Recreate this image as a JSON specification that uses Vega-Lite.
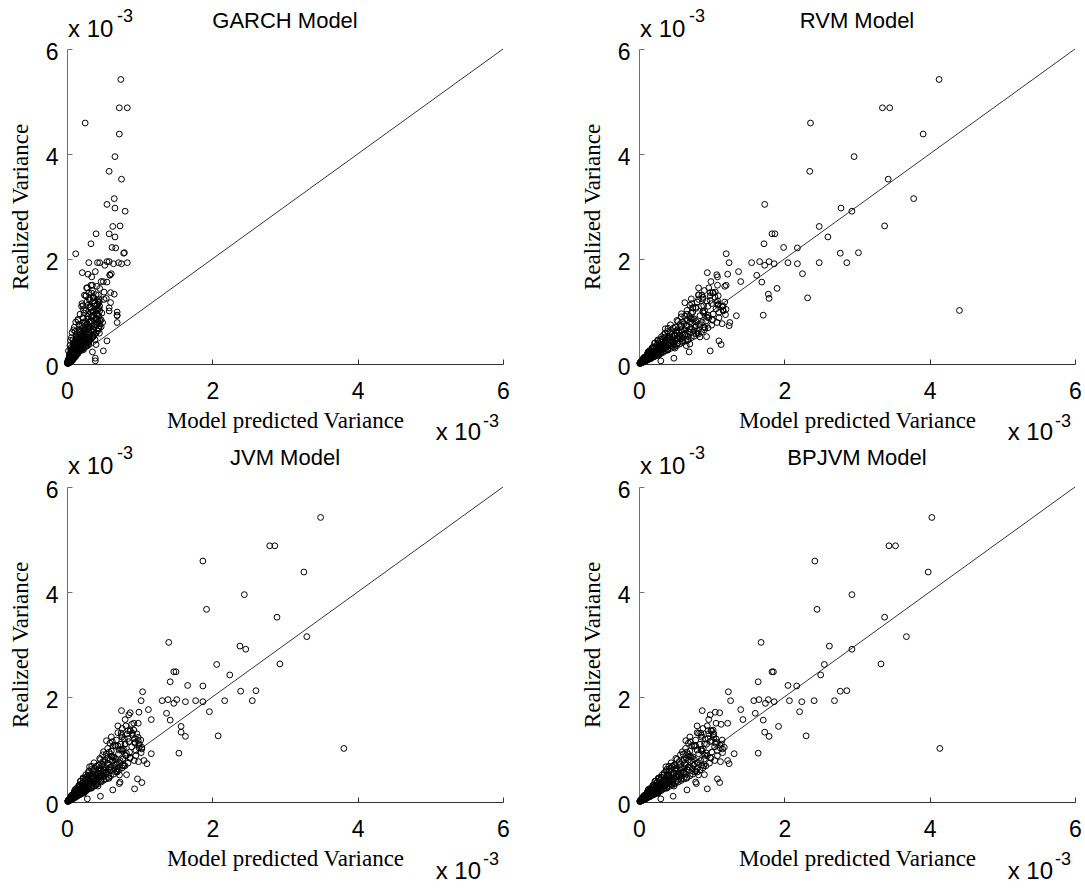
{
"$schema":"https://vega.github.io/schema/vega-lite/v6.json",
"background":"white",
"padding":{"left":9,"top":8,"right":0,"bottom":0},
"datasets":{
"diag":[{"d":0},{"d":6}],
"obs":[
{"rv":5.42,"g":0.74,"r":4.13,"j":3.49,"b":4.03},
{"rv":4.88,"g":0.72,"r":3.35,"j":2.79,"b":3.44},
{"rv":4.88,"g":0.83,"r":3.45,"j":2.86,"b":3.53},
{"rv":4.59,"g":0.25,"r":2.36,"j":1.87,"b":2.42},
{"rv":4.38,"g":0.72,"r":3.91,"j":3.26,"b":3.98},
{"rv":3.95,"g":0.66,"r":2.96,"j":2.44,"b":2.93},
{"rv":3.67,"g":0.58,"r":2.35,"j":1.92,"b":2.45},
{"rv":3.52,"g":0.75,"r":3.43,"j":2.89,"b":3.38},
{"rv":3.15,"g":0.65,"r":3.78,"j":3.30,"b":3.68},
{"rv":3.04,"g":0.55,"r":1.73,"j":1.40,"b":1.68},
{"rv":2.97,"g":0.66,"r":2.78,"j":2.38,"b":2.62},
{"rv":2.91,"g":0.80,"r":2.93,"j":2.46,"b":2.93},
{"rv":2.63,"g":0.73,"r":3.38,"j":2.93,"b":3.33},
{"rv":2.62,"g":0.63,"r":2.48,"j":2.06,"b":2.55},
{"rv":2.48,"g":0.58,"r":1.83,"j":1.47,"b":1.83},
{"rv":2.48,"g":0.40,"r":1.87,"j":1.50,"b":1.85},
{"rv":2.42,"g":0.66,"r":2.60,"j":2.24,"b":2.50},
{"rv":2.29,"g":0.33,"r":1.72,"j":1.42,"b":1.64},
{"rv":2.22,"g":0.62,"r":1.99,"j":1.66,"b":2.05},
{"rv":2.21,"g":0.67,"r":2.18,"j":1.87,"b":2.17},
{"rv":2.10,"g":0.12,"r":1.20,"j":1.04,"b":1.23},
{"rv":2.11,"g":0.78,"r":2.77,"j":2.39,"b":2.77},
{"rv":2.12,"g":0.79,"r":3.02,"j":2.60,"b":2.86},
{"rv":1.93,"g":0.42,"r":1.24,"j":1.02,"b":1.26},
{"rv":1.93,"g":0.45,"r":1.55,"j":1.31,"b":1.58},
{"rv":1.95,"g":0.55,"r":1.66,"j":1.39,"b":1.65},
{"rv":1.88,"g":0.52,"r":1.73,"j":1.47,"b":1.74},
{"rv":1.95,"g":0.58,"r":1.79,"j":1.51,"b":1.78},
{"rv":1.91,"g":0.64,"r":1.86,"j":1.63,"b":1.86},
{"rv":1.93,"g":0.71,"r":2.05,"j":1.77,"b":2.07},
{"rv":1.91,"g":0.75,"r":2.18,"j":1.87,"b":2.24},
{"rv":1.93,"g":0.83,"r":2.48,"j":2.17,"b":2.41},
{"rv":1.93,"g":0.30,"r":2.86,"j":2.55,"b":2.69},
{"rv":1.76,"g":0.39,"r":1.37,"j":1.12,"b":1.40},
{"rv":1.74,"g":0.21,"r":0.94,"j":0.75,"b":0.87},
{"rv":1.71,"g":0.29,"r":1.22,"j":0.99,"b":1.05},
{"rv":1.70,"g":0.59,"r":1.07,"j":0.87,"b":1.11},
{"rv":1.72,"g":0.61,"r":2.25,"j":1.96,"b":2.21},
{"rv":1.66,"g":0.34,"r":1.08,"j":0.85,"b":0.98},
{"rv":1.69,"g":0.59,"r":1.62,"j":1.37,"b":1.60},
{"rv":1.57,"g":0.47,"r":0.99,"j":0.80,"b":0.96},
{"rv":1.57,"g":0.50,"r":1.40,"j":1.16,"b":1.43},
{"rv":1.56,"g":0.55,"r":1.69,"j":1.42,"b":1.71},
{"rv":1.50,"g":0.35,"r":1.20,"j":0.98,"b":1.22},
{"rv":1.44,"g":0.45,"r":1.90,"j":1.57,"b":1.92},
{"rv":1.45,"g":0.27,"r":0.82,"j":0.70,"b":0.80},
{"rv":1.48,"g":0.41,"r":1.18,"j":0.89,"b":1.13},
{"rv":1.37,"g":0.51,"r":1.05,"j":0.92,"b":1.02},
{"rv":1.36,"g":0.60,"r":0.98,"j":0.84,"b":0.95},
{"rv":1.33,"g":0.65,"r":1.78,"j":1.57,"b":1.73},
{"rv":1.25,"g":0.54,"r":1.79,"j":1.63,"b":1.79},
{"rv":1.26,"g":0.37,"r":2.32,"j":2.08,"b":2.30},
{"rv":1.30,"g":0.26,"r":1.09,"j":0.96,"b":1.03},
{"rv":1.31,"g":0.24,"r":0.82,"j":0.90,"b":0.82},
{"rv":1.23,"g":0.51,"r":0.82,"j":0.98,"b":1.03},
{"rv":1.17,"g":0.60,"r":1.07,"j":0.98,"b":1.00},
{"rv":1.11,"g":0.22,"r":0.89,"j":0.80,"b":0.90},
{"rv":1.07,"g":0.58,"r":0.74,"j":0.70,"b":0.78},
{"rv":1.01,"g":0.58,"r":1.16,"j":1.03,"b":1.15},
{"rv":1.02,"g":0.42,"r":4.41,"j":3.81,"b":4.14},
{"rv":0.93,"g":0.69,"r":1.71,"j":1.54,"b":1.64},
{"rv":0.92,"g":0.69,"r":1.34,"j":1.16,"b":1.31},
{"rv":0.99,"g":0.69,"r":0.74,"j":0.72,"b":0.80},
{"rv":0.79,"g":0.69,"r":1.25,"j":1.06,"b":1.22},
{"rv":0.73,"g":0.45,"r":1.24,"j":1.10,"b":1.24},
{"rv":0.52,"g":0.35,"r":0.93,"j":0.82,"b":0.90},
{"rv":0.44,"g":0.55,"r":1.10,"j":0.97,"b":1.08},
{"rv":0.37,"g":0.40,"r":1.13,"j":1.03,"b":1.11},
{"rv":0.38,"g":0.30,"r":0.70,"j":0.73,"b":0.78},
{"rv":0.35,"g":0.28,"r":0.65,"j":0.72,"b":0.79},
{"rv":0.25,"g":0.50,"r":0.98,"j":0.93,"b":0.94},
{"rv":0.23,"g":0.35,"r":0.69,"j":0.63,"b":0.66},
{"rv":0.11,"g":0.39,"r":0.48,"j":0.46,"b":0.47},
{"rv":0.06,"g":0.39,"r":0.30,"j":0.28,"b":0.30},
{"rv":0.60,"g":0.07,"r":0.55,"j":0.47,"b":0.53},
{"rv":0.45,"g":0.05,"r":0.38,"j":0.33,"b":0.37},
{"rv":0.80,"g":0.12,"r":0.60,"j":0.52,"b":0.62},
{"rv":0.95,"g":0.18,"r":0.66,"j":0.58,"b":0.66},
{"rv":0.70,"g":0.10,"r":0.50,"j":0.44,"b":0.48},
{"rv":0.35,"g":0.04,"r":0.30,"j":0.26,"b":0.29},
{"rv":0.50,"g":0.06,"r":0.47,"j":0.40,"b":0.46},
{"rv":0.85,"g":0.15,"r":0.74,"j":0.64,"b":0.72},
{"rv":1.10,"g":0.20,"r":0.86,"j":0.74,"b":0.84},
{"rv":0.25,"g":0.02,"r":0.21,"j":0.18,"b":0.20},
{"rv":0.65,"g":0.09,"r":0.58,"j":0.50,"b":0.57},
{"rv":0.01,"g":0.01,"r":0.01,"j":0.01,"b":0.01},
{"rv":0.015,"g":0.02,"r":0.02,"j":0.015,"b":0.02},
{"rv":0.02,"g":0.01,"r":0.03,"j":0.02,"b":0.025},
{"rv":0.02,"g":0.03,"r":0.015,"j":0.02,"b":0.02},
{"rv":0.025,"g":0.02,"r":0.04,"j":0.03,"b":0.035},
{"rv":0.03,"g":0.01,"r":0.02,"j":0.025,"b":0.03},
{"rv":0.03,"g":0.04,"r":0.05,"j":0.04,"b":0.045},
{"rv":0.035,"g":0.02,"r":0.03,"j":0.02,"b":0.03},
{"rv":0.04,"g":0.03,"r":0.06,"j":0.05,"b":0.055},
{"rv":0.04,"g":0.05,"r":0.03,"j":0.035,"b":0.04},
{"rv":0.045,"g":0.02,"r":0.05,"j":0.04,"b":0.05},
{"rv":0.05,"g":0.04,"r":0.07,"j":0.06,"b":0.065},
{"rv":0.05,"g":0.06,"r":0.04,"j":0.03,"b":0.04},
{"rv":0.055,"g":0.03,"r":0.08,"j":0.06,"b":0.07},
{"rv":0.06,"g":0.05,"r":0.05,"j":0.05,"b":0.05},
{"rv":0.06,"g":0.02,"r":0.09,"j":0.07,"b":0.085},
{"rv":0.065,"g":0.07,"r":0.06,"j":0.06,"b":0.06},
{"rv":0.07,"g":0.04,"r":0.10,"j":0.08,"b":0.09},
{"rv":0.07,"g":0.03,"r":0.05,"j":0.04,"b":0.06},
{"rv":0.075,"g":0.06,"r":0.08,"j":0.07,"b":0.08},
{"rv":0.08,"g":0.05,"r":0.12,"j":0.10,"b":0.11},
{"rv":0.08,"g":0.08,"r":0.07,"j":0.06,"b":0.07},
{"rv":0.085,"g":0.04,"r":0.09,"j":0.08,"b":0.095},
{"rv":0.09,"g":0.07,"r":0.14,"j":0.11,"b":0.13},
{"rv":0.09,"g":0.03,"r":0.06,"j":0.05,"b":0.06},
{"rv":0.095,"g":0.06,"r":0.11,"j":0.09,"b":0.10},
{"rv":0.10,"g":0.09,"r":0.08,"j":0.07,"b":0.09},
{"rv":0.10,"g":0.05,"r":0.16,"j":0.13,"b":0.15},
{"rv":0.11,"g":0.07,"r":0.13,"j":0.11,"b":0.12},
{"rv":0.12,"g":0.10,"r":0.10,"j":0.09,"b":0.11},
{"rv":0.12,"g":0.05,"r":0.18,"j":0.15,"b":0.17},
{"rv":0.13,"g":0.08,"r":0.15,"j":0.12,"b":0.14},
{"rv":0.14,"g":0.11,"r":0.12,"j":0.10,"b":0.12},
{"rv":0.14,"g":0.06,"r":0.21,"j":0.17,"b":0.20},
{"rv":0.15,"g":0.09,"r":0.17,"j":0.14,"b":0.16},
{"rv":0.16,"g":0.12,"r":0.14,"j":0.12,"b":0.13},
{"rv":0.16,"g":0.07,"r":0.24,"j":0.20,"b":0.23},
{"rv":0.17,"g":0.10,"r":0.19,"j":0.16,"b":0.18},
{"rv":0.18,"g":0.13,"r":0.15,"j":0.13,"b":0.15},
{"rv":0.18,"g":0.06,"r":0.27,"j":0.22,"b":0.26},
{"rv":0.19,"g":0.11,"r":0.21,"j":0.18,"b":0.20},
{"rv":0.20,"g":0.14,"r":0.17,"j":0.14,"b":0.16},
{"rv":0.20,"g":0.08,"r":0.30,"j":0.25,"b":0.28},
{"rv":0.21,"g":0.12,"r":0.23,"j":0.20,"b":0.22},
{"rv":0.22,"g":0.15,"r":0.19,"j":0.16,"b":0.18},
{"rv":0.22,"g":0.09,"r":0.33,"j":0.27,"b":0.31},
{"rv":0.23,"g":0.13,"r":0.26,"j":0.22,"b":0.25},
{"rv":0.24,"g":0.17,"r":0.14,"j":0.12,"b":0.13},
{"rv":0.25,"g":0.10,"r":0.36,"j":0.30,"b":0.34},
{"rv":0.25,"g":0.15,"r":0.28,"j":0.24,"b":0.27},
{"rv":0.26,"g":0.19,"r":0.22,"j":0.19,"b":0.21},
{"rv":0.27,"g":0.11,"r":0.40,"j":0.33,"b":0.38},
{"rv":0.28,"g":0.16,"r":0.31,"j":0.26,"b":0.30},
{"rv":0.29,"g":0.21,"r":0.25,"j":0.21,"b":0.24},
{"rv":0.30,"g":0.12,"r":0.44,"j":0.37,"b":0.42},
{"rv":0.30,"g":0.17,"r":0.34,"j":0.29,"b":0.33},
{"rv":0.31,"g":0.22,"r":0.18,"j":0.16,"b":0.19},
{"rv":0.32,"g":0.14,"r":0.48,"j":0.40,"b":0.46},
{"rv":0.33,"g":0.19,"r":0.37,"j":0.31,"b":0.36},
{"rv":0.34,"g":0.24,"r":0.28,"j":0.24,"b":0.27},
{"rv":0.35,"g":0.13,"r":0.52,"j":0.43,"b":0.50},
{"rv":0.36,"g":0.20,"r":0.40,"j":0.34,"b":0.39},
{"rv":0.37,"g":0.26,"r":0.31,"j":0.26,"b":0.30},
{"rv":0.38,"g":0.15,"r":0.56,"j":0.47,"b":0.54},
{"rv":0.39,"g":0.22,"r":0.43,"j":0.36,"b":0.42},
{"rv":0.40,"g":0.28,"r":0.22,"j":0.19,"b":0.23},
{"rv":0.41,"g":0.16,"r":0.60,"j":0.50,"b":0.58},
{"rv":0.42,"g":0.24,"r":0.46,"j":0.39,"b":0.45},
{"rv":0.43,"g":0.30,"r":0.36,"j":0.30,"b":0.35},
{"rv":0.44,"g":0.17,"r":0.64,"j":0.54,"b":0.62},
{"rv":0.45,"g":0.25,"r":0.50,"j":0.42,"b":0.48},
{"rv":0.46,"g":0.32,"r":0.26,"j":0.22,"b":0.27},
{"rv":0.47,"g":0.18,"r":0.68,"j":0.57,"b":0.66},
{"rv":0.48,"g":0.27,"r":0.53,"j":0.45,"b":0.52},
{"rv":0.49,"g":0.34,"r":0.41,"j":0.35,"b":0.40},
{"rv":0.50,"g":0.20,"r":0.72,"j":0.60,"b":0.70},
{"rv":0.51,"g":0.29,"r":0.56,"j":0.47,"b":0.55},
{"rv":0.52,"g":0.36,"r":0.31,"j":0.26,"b":0.32},
{"rv":0.53,"g":0.21,"r":0.76,"j":0.64,"b":0.74},
{"rv":0.55,"g":0.31,"r":0.60,"j":0.50,"b":0.58},
{"rv":0.56,"g":0.38,"r":0.45,"j":0.38,"b":0.44},
{"rv":0.57,"g":0.22,"r":0.82,"j":0.69,"b":0.80},
{"rv":0.58,"g":0.33,"r":0.64,"j":0.54,"b":0.62},
{"rv":0.59,"g":0.40,"r":0.36,"j":0.30,"b":0.37},
{"rv":0.61,"g":0.23,"r":0.86,"j":0.72,"b":0.84},
{"rv":0.62,"g":0.35,"r":0.68,"j":0.57,"b":0.66},
{"rv":0.63,"g":0.42,"r":0.52,"j":0.44,"b":0.51},
{"rv":0.65,"g":0.25,"r":0.90,"j":0.76,"b":0.88},
{"rv":0.66,"g":0.36,"r":0.72,"j":0.60,"b":0.70},
{"rv":0.68,"g":0.44,"r":0.40,"j":0.34,"b":0.41},
{"rv":0.69,"g":0.27,"r":0.95,"j":0.80,"b":0.92},
{"rv":0.70,"g":0.38,"r":0.77,"j":0.65,"b":0.75},
{"rv":0.72,"g":0.30,"r":0.58,"j":0.49,"b":0.57},
{"rv":0.74,"g":0.40,"r":1.00,"j":0.84,"b":0.97},
{"rv":0.75,"g":0.28,"r":0.82,"j":0.69,"b":0.80},
{"rv":0.77,"g":0.45,"r":0.62,"j":0.52,"b":0.60},
{"rv":0.79,"g":0.31,"r":0.87,"j":0.73,"b":0.85},
{"rv":0.80,"g":0.42,"r":0.70,"j":0.59,"b":0.68},
{"rv":0.82,"g":0.33,"r":0.92,"j":0.77,"b":0.90},
{"rv":0.84,"g":0.47,"r":0.66,"j":0.56,"b":0.65},
{"rv":0.86,"g":0.29,"r":0.76,"j":0.64,"b":0.74},
{"rv":0.88,"g":0.40,"r":0.96,"j":0.81,"b":0.94},
{"rv":0.90,"g":0.34,"r":0.58,"j":0.49,"b":0.57},
{"rv":0.92,"g":0.44,"r":0.84,"j":0.71,"b":0.82},
{"rv":0.95,"g":0.31,"r":1.02,"j":0.86,"b":1.00},
{"rv":0.97,"g":0.48,"r":0.72,"j":0.61,"b":0.70},
{"rv":1.00,"g":0.36,"r":0.88,"j":0.74,"b":0.86},
{"rv":1.02,"g":0.26,"r":0.66,"j":0.56,"b":0.64},
{"rv":1.05,"g":0.42,"r":1.06,"j":0.89,"b":1.04},
{"rv":1.08,"g":0.33,"r":0.78,"j":0.66,"b":0.76},
{"rv":1.10,"g":0.45,"r":0.95,"j":0.80,"b":0.93},
{"rv":1.12,"g":0.29,"r":0.70,"j":0.59,"b":0.68},
{"rv":1.15,"g":0.38,"r":1.00,"j":0.85,"b":0.98},
{"rv":1.18,"g":0.27,"r":0.80,"j":0.68,"b":0.78},
{"rv":1.20,"g":0.43,"r":0.93,"j":0.79,"b":0.91},
{"rv":1.24,"g":0.31,"r":0.72,"j":0.61,"b":0.70},
{"rv":1.27,"g":0.36,"r":0.88,"j":0.75,"b":0.86},
{"rv":1.30,"g":0.26,"r":0.98,"j":0.83,"b":0.96},
{"rv":1.32,"g":0.40,"r":0.82,"j":0.70,"b":0.80},
{"rv":1.36,"g":0.30,"r":1.02,"j":0.87,"b":1.00},
{"rv":1.40,"g":0.35,"r":0.90,"j":0.76,"b":0.88},
{"rv":1.45,"g":0.28,"r":0.96,"j":0.81,"b":0.94},
{"rv":1.50,"g":0.33,"r":1.08,"j":0.92,"b":1.06},
{"rv":0.012,"g":0.005,"r":0.016,"j":0.014,"b":0.015},
{"rv":0.018,"g":0.013,"r":0.013,"j":0.011,"b":0.013},
{"rv":0.027,"g":0.008,"r":0.029,"j":0.025,"b":0.028},
{"rv":0.033,"g":0.018,"r":0.019,"j":0.017,"b":0.02},
{"rv":0.038,"g":0.014,"r":0.057,"j":0.048,"b":0.055},
{"rv":0.042,"g":0.035,"r":0.039,"j":0.034,"b":0.04},
{"rv":0.048,"g":0.015,"r":0.032,"j":0.028,"b":0.031},
{"rv":0.053,"g":0.033,"r":0.064,"j":0.055,"b":0.062},
{"rv":0.058,"g":0.027,"r":0.049,"j":0.042,"b":0.05},
{"rv":0.062,"g":0.016,"r":0.101,"j":0.087,"b":0.097},
{"rv":0.067,"g":0.046,"r":0.052,"j":0.045,"b":0.051},
{"rv":0.072,"g":0.028,"r":0.073,"j":0.063,"b":0.072},
{"rv":0.078,"g":0.041,"r":0.048,"j":0.042,"b":0.049},
{"rv":0.083,"g":0.027,"r":0.115,"j":0.098,"b":0.112},
{"rv":0.088,"g":0.067,"r":0.078,"j":0.068,"b":0.076},
{"rv":0.093,"g":0.041,"r":0.107,"j":0.092,"b":0.104},
{"rv":0.098,"g":0.028,"r":0.068,"j":0.059,"b":0.067},
{"rv":0.104,"g":0.06,"r":0.132,"j":0.113,"b":0.128},
{"rv":0.108,"g":0.04,"r":0.104,"j":0.09,"b":0.102},
{"rv":0.113,"g":0.073,"r":0.061,"j":0.053,"b":0.062},
{"rv":0.118,"g":0.05,"r":0.156,"j":0.134,"b":0.152},
{"rv":0.124,"g":0.088,"r":0.088,"j":0.076,"b":0.086},
{"rv":0.128,"g":0.036,"r":0.138,"j":0.119,"b":0.135},
{"rv":0.133,"g":0.073,"r":0.077,"j":0.067,"b":0.079},
{"rv":0.139,"g":0.05,"r":0.207,"j":0.178,"b":0.201},
{"rv":0.144,"g":0.12,"r":0.134,"j":0.115,"b":0.131},
{"rv":0.149,"g":0.046,"r":0.098,"j":0.085,"b":0.097},
{"rv":0.155,"g":0.096,"r":0.188,"j":0.161,"b":0.183},
{"rv":0.161,"g":0.076,"r":0.135,"j":0.117,"b":0.133},
{"rv":0.166,"g":0.042,"r":0.271,"j":0.232,"b":0.262},
{"rv":0.172,"g":0.117,"r":0.132,"j":0.114,"b":0.13},
{"rv":0.178,"g":0.069,"r":0.182,"j":0.157,"b":0.178},
{"rv":0.184,"g":0.096,"r":0.112,"j":0.097,"b":0.114},
{"rv":0.189,"g":0.062,"r":0.261,"j":0.224,"b":0.254},
{"rv":0.195,"g":0.148,"r":0.174,"j":0.15,"b":0.171},
{"rv":0.201,"g":0.088,"r":0.231,"j":0.199,"b":0.226},
{"rv":0.207,"g":0.06,"r":0.143,"j":0.124,"b":0.141},
{"rv":0.214,"g":0.124,"r":0.272,"j":0.234,"b":0.265},
{"rv":0.221,"g":0.082,"r":0.212,"j":0.183,"b":0.208},
{"rv":0.228,"g":0.148,"r":0.123,"j":0.107,"b":0.126},
{"rv":0.235,"g":0.099,"r":0.31,"j":0.267,"b":0.302},
{"rv":0.242,"g":0.172,"r":0.172,"j":0.148,"b":0.169},
{"rv":0.249,"g":0.07,"r":0.269,"j":0.231,"b":0.263},
{"rv":0.256,"g":0.141,"r":0.148,"j":0.128,"b":0.151},
{"rv":0.264,"g":0.095,"r":0.393,"j":0.338,"b":0.383},
{"rv":0.271,"g":0.225,"r":0.252,"j":0.217,"b":0.247},
{"rv":0.279,"g":0.086,"r":0.184,"j":0.159,"b":0.181},
{"rv":0.287,"g":0.178,"r":0.347,"j":0.298,"b":0.339},
{"rv":0.295,"g":0.139,"r":0.248,"j":0.213,"b":0.243},
{"rv":0.303,"g":0.076,"r":0.494,"j":0.425,"b":0.481},
{"rv":0.312,"g":0.212,"r":0.24,"j":0.207,"b":0.236},
{"rv":0.321,"g":0.125,"r":0.327,"j":0.282,"b":0.321},
{"rv":0.329,"g":0.171,"r":0.201,"j":0.173,"b":0.205},
{"rv":0.338,"g":0.112,"r":0.466,"j":0.401,"b":0.455},
{"rv":0.347,"g":0.264,"r":0.309,"j":0.266,"b":0.302},
{"rv":0.357,"g":0.157,"r":0.411,"j":0.353,"b":0.401},
{"rv":0.366,"g":0.106,"r":0.253,"j":0.217,"b":0.248},
{"rv":0.376,"g":0.218,"r":0.478,"j":0.411,"b":0.467},
{"rv":0.386,"g":0.143,"r":0.371,"j":0.319,"b":0.363},
{"rv":0.396,"g":0.257,"r":0.214,"j":0.184,"b":0.219},
{"rv":0.407,"g":0.171,"r":0.537,"j":0.462,"b":0.524},
{"rv":0.418,"g":0.297,"r":0.297,"j":0.255,"b":0.291},
{"rv":0.429,"g":0.12,"r":0.463,"j":0.398,"b":0.453},
{"rv":0.441,"g":0.243,"r":0.256,"j":0.22,"b":0.261},
{"rv":0.452,"g":0.163,"r":0.673,"j":0.579,"b":0.657},
{"rv":0.464,"g":0.385,"r":0.432,"j":0.371,"b":0.423},
{"rv":0.476,"g":0.148,"r":0.314,"j":0.27,"b":0.309},
{"rv":0.489,"g":0.303,"r":0.592,"j":0.509,"b":0.578},
{"rv":0.502,"g":0.236,"r":0.422,"j":0.363,"b":0.413},
{"rv":0.515,"g":0.129,"r":0.839,"j":0.722,"b":0.82},
{"rv":0.529,"g":0.36,"r":0.407,"j":0.35,"b":0.399},
{"rv":0.543,"g":0.212,"r":0.554,"j":0.476,"b":0.543},
{"rv":0.557,"g":0.29,"r":0.34,"j":0.292,"b":0.347},
{"rv":0.572,"g":0.189,"r":0.789,"j":0.679,"b":0.771},
{"rv":0.587,"g":0.446,"r":0.522,"j":0.449,"b":0.511},
{"rv":0.603,"g":0.265,"r":0.693,"j":0.596,"b":0.679},
{"rv":0.619,"g":0.18,"r":0.427,"j":0.367,"b":0.419},
{"rv":0.636,"g":0.369,"r":0.808,"j":0.695,"b":0.792},
{"rv":0.653,"g":0.242,"r":0.627,"j":0.539,"b":0.614},
{"rv":0.671,"g":0.436,"r":0.362,"j":0.311,"b":0.37},
{"rv":0.689,"g":0.289,"r":0.909,"j":0.782,"b":0.891},
{"rv":0.708,"g":0.47,"r":0.503,"j":0.433,"b":0.493},
{"rv":0.727,"g":0.204,"r":0.785,"j":0.675,"b":0.769},
{"rv":0.747,"g":0.411,"r":0.433,"j":0.372,"b":0.442},
{"rv":0.768,"g":0.276,"r":1.144,"j":0.984,"b":1.121},
{"rv":0.789,"g":0.49,"r":0.734,"j":0.631,"b":0.719},
{"rv":0.811,"g":0.251,"r":0.535,"j":0.46,"b":0.524},
{"rv":0.834,"g":0.45,"r":1.009,"j":0.868,"b":0.989},
{"rv":0.857,"g":0.403,"r":0.72,"j":0.619,"b":0.706},
{"rv":0.881,"g":0.22,"r":1.101,"j":0.947,"b":1.079},
{"rv":0.906,"g":0.43,"r":0.698,"j":0.6,"b":0.684},
{"rv":0.931,"g":0.363,"r":0.95,"j":0.817,"b":0.931},
{"rv":0.957,"g":0.41,"r":0.584,"j":0.502,"b":0.596},
{"rv":0.984,"g":0.325,"r":1.102,"j":0.948,"b":1.08},
{"rv":1.013,"g":0.45,"r":0.902,"j":0.776,"b":0.884},
{"rv":1.042,"g":0.40,"r":1.198,"j":1.03,"b":1.174},
{"rv":1.072,"g":0.311,"r":0.74,"j":0.636,"b":0.725},
{"rv":1.103,"g":0.38,"r":1.158,"j":0.996,"b":1.135},
{"rv":1.135,"g":0.42,"r":1.09,"j":0.937,"b":1.068},
{"rv":1.168,"g":0.44,"r":0.631,"j":0.543,"b":0.644},
{"rv":1.202,"g":0.361,"r":1.082,"j":0.93,"b":1.06},
{"rv":1.237,"g":0.445,"r":0.878,"j":0.755,"b":0.86},
{"rv":1.274,"g":0.357,"r":1.045,"j":0.899,"b":1.024},
{"rv":1.312,"g":0.433,"r":0.866,"j":0.745,"b":0.849},
{"rv":1.351,"g":0.338,"r":1.013,"j":0.871,"b":0.993},
{"rv":0.022,"g":0.008,"r":0.019,"j":0.017,"b":0.019},
{"rv":0.031,"g":0.007,"r":0.035,"j":0.030,"b":0.034},
{"rv":0.044,"g":0.021,"r":0.033,"j":0.028,"b":0.032},
{"rv":0.051,"g":0.015,"r":0.069,"j":0.060,"b":0.067},
{"rv":0.063,"g":0.026,"r":0.061,"j":0.053,"b":0.059},
{"rv":0.071,"g":0.013,"r":0.045,"j":0.039,"b":0.043},
{"rv":0.079,"g":0.042,"r":0.094,"j":0.081,"b":0.091},
{"rv":0.087,"g":0.023,"r":0.070,"j":0.061,"b":0.068},
{"rv":0.096,"g":0.036,"r":0.101,"j":0.087,"b":0.098},
{"rv":0.105,"g":0.033,"r":0.072,"j":0.062,"b":0.070},
{"rv":0.115,"g":0.052,"r":0.146,"j":0.126,"b":0.142},
{"rv":0.122,"g":0.029,"r":0.112,"j":0.097,"b":0.109},
{"rv":0.131,"g":0.046,"r":0.115,"j":0.099,"b":0.112},
{"rv":0.142,"g":0.031,"r":0.159,"j":0.137,"b":0.154},
{"rv":0.151,"g":0.072,"r":0.112,"j":0.096,"b":0.108},
{"rv":0.163,"g":0.047,"r":0.222,"j":0.191,"b":0.215},
{"rv":0.174,"g":0.071,"r":0.169,"j":0.145,"b":0.164},
{"rv":0.183,"g":0.033,"r":0.115,"j":0.099,"b":0.112},
{"rv":0.192,"g":0.102,"r":0.228,"j":0.196,"b":0.222},
{"rv":0.204,"g":0.053,"r":0.165,"j":0.142,"b":0.160},
{"rv":0.213,"g":0.081,"r":0.224,"j":0.192,"b":0.217},
{"rv":0.226,"g":0.070,"r":0.156,"j":0.134,"b":0.151},
{"rv":0.238,"g":0.107,"r":0.302,"j":0.260,"b":0.293},
{"rv":0.247,"g":0.059,"r":0.227,"j":0.195,"b":0.220},
{"rv":0.259,"g":0.091,"r":0.228,"j":0.196,"b":0.221},
{"rv":0.268,"g":0.059,"r":0.300,"j":0.258,"b":0.291},
{"rv":0.282,"g":0.135,"r":0.209,"j":0.179,"b":0.202},
{"rv":0.293,"g":0.085,"r":0.398,"j":0.343,"b":0.386},
{"rv":0.305,"g":0.125,"r":0.296,"j":0.254,"b":0.287},
{"rv":0.316,"g":0.057,"r":0.199,"j":0.171,"b":0.193},
{"rv":0.327,"g":0.173,"r":0.389,"j":0.335,"b":0.377},
{"rv":0.339,"g":0.088,"r":0.275,"j":0.236,"b":0.266},
{"rv":0.352,"g":0.134,"r":0.370,"j":0.318,"b":0.359},
{"rv":0.364,"g":0.113,"r":0.251,"j":0.216,"b":0.244},
{"rv":0.373,"g":0.168,"r":0.474,"j":0.407,"b":0.460},
{"rv":0.385,"g":0.092,"r":0.354,"j":0.305,"b":0.343},
{"rv":0.398,"g":0.139,"r":0.350,"j":0.301,"b":0.340},
{"rv":0.411,"g":0.090,"r":0.460,"j":0.396,"b":0.446},
{"rv":0.423,"g":0.203,"r":0.313,"j":0.269,"b":0.304},
{"rv":0.436,"g":0.126,"r":0.593,"j":0.510,"b":0.575},
{"rv":0.448,"g":0.184,"r":0.435,"j":0.374,"b":0.422},
{"rv":0.461,"g":0.083,"r":0.290,"j":0.250,"b":0.282},
{"rv":0.474,"g":0.251,"r":0.564,"j":0.485,"b":0.547},
{"rv":0.487,"g":0.127,"r":0.394,"j":0.339,"b":0.383},
{"rv":0.498,"g":0.189,"r":0.523,"j":0.450,"b":0.507},
{"rv":0.512,"g":0.159,"r":0.353,"j":0.304,"b":0.343},
{"rv":0.526,"g":0.237,"r":0.668,"j":0.574,"b":0.648},
{"rv":0.538,"g":0.129,"r":0.495,"j":0.426,"b":0.480},
{"rv":0.551,"g":0.193,"r":0.485,"j":0.417,"b":0.470},
{"rv":0.565,"g":0.124,"r":0.633,"j":0.544,"b":0.614},
{"rv":0.578,"g":0.277,"r":0.428,"j":0.368,"b":0.415},
{"rv":0.592,"g":0.172,"r":0.805,"j":0.692,"b":0.781},
{"rv":0.607,"g":0.249,"r":0.589,"j":0.506,"b":0.571},
{"rv":0.622,"g":0.112,"r":0.392,"j":0.337,"b":0.380},
{"rv":0.638,"g":0.330,"r":0.759,"j":0.653,"b":0.736},
{"rv":0.651,"g":0.169,"r":0.527,"j":0.453,"b":0.511},
{"rv":0.667,"g":0.253,"r":0.700,"j":0.602,"b":0.679},
{"rv":0.684,"g":0.212,"r":0.472,"j":0.406,"b":0.458},
{"rv":0.702,"g":0.316,"r":0.892,"j":0.767,"b":0.865},
{"rv":0.718,"g":0.172,"r":0.661,"j":0.568,"b":0.641},
{"rv":0.735,"g":0.257,"r":0.647,"j":0.556,"b":0.628},
{"rv":0.752,"g":0.165,"r":0.842,"j":0.724,"b":0.817},
{"rv":0.771,"g":0.370,"r":0.571,"j":0.491,"b":0.554},
{"rv":0.790,"g":0.229,"r":1.074,"j":0.924,"b":1.042},
{"rv":0.810,"g":0.332,"r":0.786,"j":0.676,"b":0.762},
{"rv":0.830,"g":0.149,"r":0.523,"j":0.450,"b":0.507},
{"rv":0.850,"g":0.420,"r":1.012,"j":0.870,"b":0.981},
{"rv":0.870,"g":0.226,"r":0.705,"j":0.606,"b":0.684},
{"rv":0.890,"g":0.338,"r":0.935,"j":0.804,"b":0.907},
{"rv":0.910,"g":0.282,"r":0.628,"j":0.540,"b":0.609},
{"rv":0.940,"g":0.420,"r":1.190,"j":1.020,"b":1.150},
{"rv":0.970,"g":0.233,"r":0.892,"j":0.767,"b":0.865},
{"rv":1.000,"g":0.350,"r":0.880,"j":0.757,"b":0.854},
{"rv":1.030,"g":0.227,"r":1.154,"j":0.992,"b":1.119},
{"rv":1.060,"g":0.440,"r":0.784,"j":0.674,"b":0.760},
{"rv":1.090,"g":0.316,"r":1.145,"j":0.985,"b":1.111},
{"rv":1.120,"g":0.410,"r":1.086,"j":0.934,"b":1.053},
{"rv":1.150,"g":0.207,"r":0.725,"j":0.624,"b":0.703},
{"rv":1.180,"g":0.440,"r":1.180,"j":1.015,"b":1.145},
{"rv":1.210,"g":0.310,"r":0.980,"j":0.843,"b":0.951}
]},
"vconcat":[
{"hconcat":[
{"width":436,"height":315,"layer":[
{"data":{"name":"diag"},"mark":{"type":"line","color":"black","strokeWidth":0.8},"encoding":{"x":{"field":"d","type":"quantitative","scale":{"domain":[0,6],"nice":false},"axis":{"values":[0,2,4,6],"format":"d"},"title":"Model predicted Variance"},"y":{"field":"d","type":"quantitative","scale":{"domain":[0,6],"nice":false},"axis":{"values":[0,2,4,6],"format":"d"},"title":"Realized Variance"}}},
{"data":{"name":"obs"},"mark":{"type":"point","shape":"circle","filled":false,"color":"black","size":34,"strokeWidth":1,"opacity":1},"encoding":{"x":{"field":"g","type":"quantitative","axis":{"values":[0,2,4,6],"format":"d"},"title":"Model predicted Variance"},"y":{"field":"rv","type":"quantitative","axis":{"values":[0,2,4,6],"format":"d"},"title":"Realized Variance"}}},
{"data":{"values":[{"t":"GARCH Model"}]},"mark":{"type":"text","font":"Liberation Sans","fontSize":22,"dy":-28,"baseline":"middle"},"encoding":{"text":{"field":"t"},"x":{"datum":3,"type":"quantitative"},"y":{"datum":6,"type":"quantitative"}}},
{"data":{"values":[{"t":"x 10"}]},"mark":{"type":"text","font":"Liberation Sans","fontSize":24,"align":"left","baseline":"middle","dx":1,"dy":-19},"encoding":{"text":{"field":"t"},"x":{"datum":0,"type":"quantitative"},"y":{"datum":6,"type":"quantitative"}}},
{"data":{"values":[{"t":"-3"}]},"mark":{"type":"text","font":"Liberation Sans","fontSize":18,"align":"left","baseline":"middle","dx":50,"dy":-32},"encoding":{"text":{"field":"t"},"x":{"datum":0,"type":"quantitative"},"y":{"datum":6,"type":"quantitative"}}},
{"data":{"values":[{"t":"x 10"}]},"mark":{"type":"text","font":"Liberation Sans","fontSize":24,"align":"right","baseline":"middle","dx":-22,"dy":69},"encoding":{"text":{"field":"t"},"x":{"datum":6,"type":"quantitative"},"y":{"datum":0,"type":"quantitative"}}},
{"data":{"values":[{"t":"-3"}]},"mark":{"type":"text","font":"Liberation Sans","fontSize":18,"align":"left","baseline":"middle","dx":-20,"dy":58},"encoding":{"text":{"field":"t"},"x":{"datum":6,"type":"quantitative"},"y":{"datum":0,"type":"quantitative"}}}
]},
{"width":436,"height":315,"layer":[
{"data":{"name":"diag"},"mark":{"type":"line","color":"black","strokeWidth":0.8},"encoding":{"x":{"field":"d","type":"quantitative","scale":{"domain":[0,6],"nice":false},"axis":{"values":[0,2,4,6],"format":"d"},"title":"Model predicted Variance"},"y":{"field":"d","type":"quantitative","scale":{"domain":[0,6],"nice":false},"axis":{"values":[0,2,4,6],"format":"d"},"title":"Realized Variance"}}},
{"data":{"name":"obs"},"mark":{"type":"point","shape":"circle","filled":false,"color":"black","size":34,"strokeWidth":1,"opacity":1},"encoding":{"x":{"field":"r","type":"quantitative","axis":{"values":[0,2,4,6],"format":"d"},"title":"Model predicted Variance"},"y":{"field":"rv","type":"quantitative","axis":{"values":[0,2,4,6],"format":"d"},"title":"Realized Variance"}}},
{"data":{"values":[{"t":"RVM Model"}]},"mark":{"type":"text","font":"Liberation Sans","fontSize":22,"dy":-28,"baseline":"middle"},"encoding":{"text":{"field":"t"},"x":{"datum":3,"type":"quantitative"},"y":{"datum":6,"type":"quantitative"}}},
{"data":{"values":[{"t":"x 10"}]},"mark":{"type":"text","font":"Liberation Sans","fontSize":24,"align":"left","baseline":"middle","dx":1,"dy":-19},"encoding":{"text":{"field":"t"},"x":{"datum":0,"type":"quantitative"},"y":{"datum":6,"type":"quantitative"}}},
{"data":{"values":[{"t":"-3"}]},"mark":{"type":"text","font":"Liberation Sans","fontSize":18,"align":"left","baseline":"middle","dx":50,"dy":-32},"encoding":{"text":{"field":"t"},"x":{"datum":0,"type":"quantitative"},"y":{"datum":6,"type":"quantitative"}}},
{"data":{"values":[{"t":"x 10"}]},"mark":{"type":"text","font":"Liberation Sans","fontSize":24,"align":"right","baseline":"middle","dx":-22,"dy":69},"encoding":{"text":{"field":"t"},"x":{"datum":6,"type":"quantitative"},"y":{"datum":0,"type":"quantitative"}}},
{"data":{"values":[{"t":"-3"}]},"mark":{"type":"text","font":"Liberation Sans","fontSize":18,"align":"left","baseline":"middle","dx":-20,"dy":58},"encoding":{"text":{"field":"t"},"x":{"datum":6,"type":"quantitative"},"y":{"datum":0,"type":"quantitative"}}}
]}
],"spacing":71},
{"hconcat":[
{"width":436,"height":315,"layer":[
{"data":{"name":"diag"},"mark":{"type":"line","color":"black","strokeWidth":0.8},"encoding":{"x":{"field":"d","type":"quantitative","scale":{"domain":[0,6],"nice":false},"axis":{"values":[0,2,4,6],"format":"d"},"title":"Model predicted Variance"},"y":{"field":"d","type":"quantitative","scale":{"domain":[0,6],"nice":false},"axis":{"values":[0,2,4,6],"format":"d"},"title":"Realized Variance"}}},
{"data":{"name":"obs"},"mark":{"type":"point","shape":"circle","filled":false,"color":"black","size":34,"strokeWidth":1,"opacity":1},"encoding":{"x":{"field":"j","type":"quantitative","axis":{"values":[0,2,4,6],"format":"d"},"title":"Model predicted Variance"},"y":{"field":"rv","type":"quantitative","axis":{"values":[0,2,4,6],"format":"d"},"title":"Realized Variance"}}},
{"data":{"values":[{"t":"JVM Model"}]},"mark":{"type":"text","font":"Liberation Sans","fontSize":22,"dy":-29,"baseline":"middle"},"encoding":{"text":{"field":"t"},"x":{"datum":3,"type":"quantitative"},"y":{"datum":6,"type":"quantitative"}}},
{"data":{"values":[{"t":"x 10"}]},"mark":{"type":"text","font":"Liberation Sans","fontSize":24,"align":"left","baseline":"middle","dx":1,"dy":-20},"encoding":{"text":{"field":"t"},"x":{"datum":0,"type":"quantitative"},"y":{"datum":6,"type":"quantitative"}}},
{"data":{"values":[{"t":"-3"}]},"mark":{"type":"text","font":"Liberation Sans","fontSize":18,"align":"left","baseline":"middle","dx":50,"dy":-33},"encoding":{"text":{"field":"t"},"x":{"datum":0,"type":"quantitative"},"y":{"datum":6,"type":"quantitative"}}},
{"data":{"values":[{"t":"x 10"}]},"mark":{"type":"text","font":"Liberation Sans","fontSize":24,"align":"right","baseline":"middle","dx":-22,"dy":70},"encoding":{"text":{"field":"t"},"x":{"datum":6,"type":"quantitative"},"y":{"datum":0,"type":"quantitative"}}},
{"data":{"values":[{"t":"-3"}]},"mark":{"type":"text","font":"Liberation Sans","fontSize":18,"align":"left","baseline":"middle","dx":-20,"dy":58},"encoding":{"text":{"field":"t"},"x":{"datum":6,"type":"quantitative"},"y":{"datum":0,"type":"quantitative"}}}
]},
{"width":436,"height":315,"layer":[
{"data":{"name":"diag"},"mark":{"type":"line","color":"black","strokeWidth":0.8},"encoding":{"x":{"field":"d","type":"quantitative","scale":{"domain":[0,6],"nice":false},"axis":{"values":[0,2,4,6],"format":"d"},"title":"Model predicted Variance"},"y":{"field":"d","type":"quantitative","scale":{"domain":[0,6],"nice":false},"axis":{"values":[0,2,4,6],"format":"d"},"title":"Realized Variance"}}},
{"data":{"name":"obs"},"mark":{"type":"point","shape":"circle","filled":false,"color":"black","size":34,"strokeWidth":1,"opacity":1},"encoding":{"x":{"field":"b","type":"quantitative","axis":{"values":[0,2,4,6],"format":"d"},"title":"Model predicted Variance"},"y":{"field":"rv","type":"quantitative","axis":{"values":[0,2,4,6],"format":"d"},"title":"Realized Variance"}}},
{"data":{"values":[{"t":"BPJVM Model"}]},"mark":{"type":"text","font":"Liberation Sans","fontSize":22,"dy":-29,"baseline":"middle"},"encoding":{"text":{"field":"t"},"x":{"datum":3,"type":"quantitative"},"y":{"datum":6,"type":"quantitative"}}},
{"data":{"values":[{"t":"x 10"}]},"mark":{"type":"text","font":"Liberation Sans","fontSize":24,"align":"left","baseline":"middle","dx":1,"dy":-20},"encoding":{"text":{"field":"t"},"x":{"datum":0,"type":"quantitative"},"y":{"datum":6,"type":"quantitative"}}},
{"data":{"values":[{"t":"-3"}]},"mark":{"type":"text","font":"Liberation Sans","fontSize":18,"align":"left","baseline":"middle","dx":50,"dy":-33},"encoding":{"text":{"field":"t"},"x":{"datum":0,"type":"quantitative"},"y":{"datum":6,"type":"quantitative"}}},
{"data":{"values":[{"t":"x 10"}]},"mark":{"type":"text","font":"Liberation Sans","fontSize":24,"align":"right","baseline":"middle","dx":-22,"dy":70},"encoding":{"text":{"field":"t"},"x":{"datum":6,"type":"quantitative"},"y":{"datum":0,"type":"quantitative"}}},
{"data":{"values":[{"t":"-3"}]},"mark":{"type":"text","font":"Liberation Sans","fontSize":18,"align":"left","baseline":"middle","dx":-20,"dy":58},"encoding":{"text":{"field":"t"},"x":{"datum":6,"type":"quantitative"},"y":{"datum":0,"type":"quantitative"}}}
]}
],"spacing":71}
],
"spacing":0,
"config":{
"view":{"stroke":null},
"axis":{"grid":false,"labelFont":"Liberation Sans","labelFontSize":23,"labelColor":"black","titleFont":"Liberation Serif","titleFontSize":23,"titleFontWeight":"normal","titleColor":"black","labelFlush":false,"labelOverlap":false,"tickSize":-5,"domainWidth":1,"tickWidth":1},
"axisX":{"labelPadding":21,"titlePadding":6,"domainColor":"#333333","tickColor":"#333333"},
"axisY":{"labelPadding":14,"titlePadding":13,"labelOffset":3,"domainColor":"#707070","tickColor":"#707070"}
}
}
